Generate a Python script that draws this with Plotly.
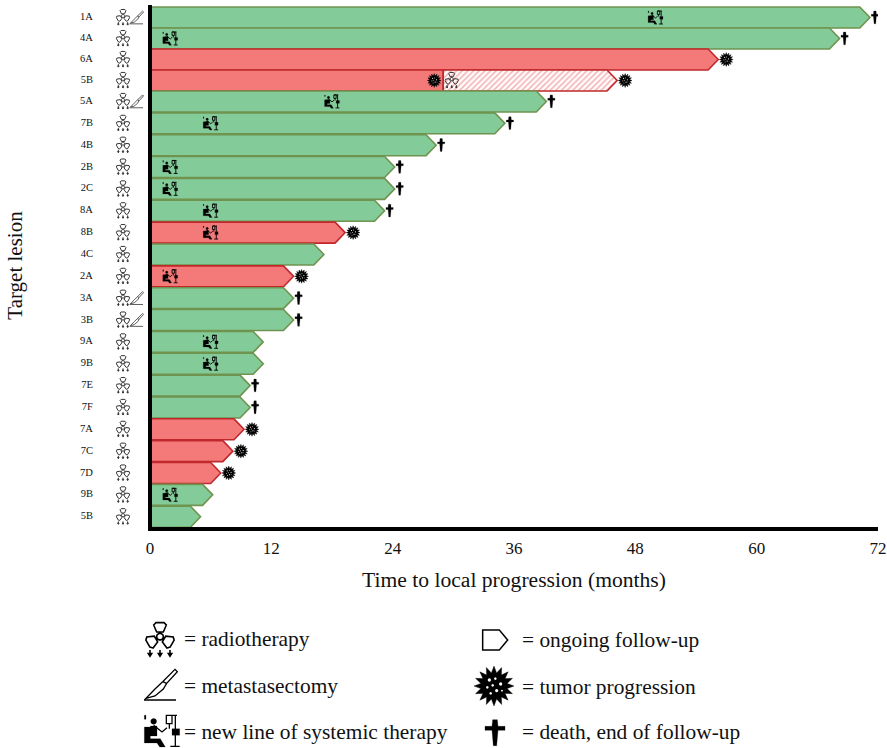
import math
import plotly.graph_objects as go

# ---- data -------------------------------------------------------------
lesions = ["1A", "4A", "6A", "5B", "5A", "7B", "4B", "2B", "2C", "8A", "8B", "4C",
           "2A", "3A", "3B", "9A", "9B", "7E", "7F", "7A", "7C", "7D", "9B", "5B"]
months = [71.2, 68.2, 56.2, 46.2, 39.2, 35.1, 28.3, 24.2, 24.2, 23.2, 19.3, 17.2,
          14.2, 14.2, 14.2, 11.2, 11.2, 9.9, 9.9, 9.3, 8.2, 7.0, 6.2, 5.0]
progressed = [0, 0, 1, 1, 0, 0, 0, 0, 0, 0, 1, 0, 1, 0, 0, 0, 0, 0, 0, 1, 1, 1, 0, 0]
died = [1, 1, 0, 0, 1, 1, 1, 1, 1, 1, 0, 0, 0, 1, 1, 0, 0, 1, 1, 0, 0, 0, 0, 0]
metastasectomy = [1, 0, 0, 0, 1, 0, 0, 0, 0, 0, 0, 0, 0, 1, 1, 0, 0, 0, 0, 0, 0, 0, 0, 0]
# row index -> month of the new line of systemic therapy
systemic_rows = [0, 1, 4, 5, 7, 8, 9, 10, 12, 15, 16, 22]
systemic_month = [50, 2, 18, 6, 2, 2, 6, 6, 2, 6, 6, 2]
split_row = 3
split_month = 29.0
tick_months = [0, 12, 24, 36, 48, 60, 72]
legend_left = ["= radiotherapy", "= metastasectomy", "= new line of systemic therapy"]
legend_right = ["= ongoing follow-up", "= tumor progression", "= death, end of follow-up"]

# ---- style ------------------------------------------------------------
SERIF = "Liberation Serif"
GREEN, GREEN_LINE = "#84CB9A", "#6F944F"
RED, RED_LINE = "#F47A7A", "#C0282D"
W, H = 887, 748
L, R, T, B = 150, 878, 4, 527
HEAD = 1.0      # arrow head length, months
HALF = 0.48     # half bar height, rows


def row_y(i):
    return i if i >= 4 else 4 - (4 - i) * 0.96


def px(x):  # figure pixel -> paper
    return (x - L) / (R - L)


def py(y):
    return (B - y) / (B - T)


fig = go.Figure()


def bar(x0, x1, y, fill, line, arrow=True, pattern=None):
    if arrow:
        xs = [x0, x1 - HEAD, x1, x1 - HEAD, x0, x0]
        ys = [y - HALF, y - HALF, y, y + HALF, y + HALF, y - HALF]
    else:
        xs = [x0, x1, x1, x0, x0]
        ys = [y - HALF, y - HALF, y + HALF, y + HALF, y - HALF]
    fig.add_trace(go.Scatter(x=xs, y=ys, mode="lines", fill="toself", fillcolor=fill,
                             fillpattern=pattern, line=dict(color=line, width=1.6),
                             hoverinfo="skip", showlegend=False))


for i, m in enumerate(months):
    fill, line = (RED, RED_LINE) if progressed[i] else (GREEN, GREEN_LINE)
    if i == split_row:
        bar(0, split_month, row_y(i), fill, line, arrow=False)
        bar(split_month, m, row_y(i), "#FFFFFF", line,
            pattern=dict(shape="/", fgcolor="#EE7070", bgcolor="#FFFFFF", size=4, solidity=0.45))
    else:
        bar(0, m, row_y(i), fill, line)


# ---- icon geometry (unit space, y up) ----------------------------------
def poly(pts, close=True):
    s = "M" + " L".join(f"{x:.2f},{y:.2f}" for x, y in pts)
    return s + (" Z" if close else "")


def scaled(parts):
    return " ".join(poly(p, c) for p, c in parts)


def circ_pts(cx, cy, r, n=14):
    return [(cx + r * math.cos(2 * math.pi * k / n), cy + r * math.sin(2 * math.pi * k / n))
            for k in range(n)]


def rot(pts, deg):
    a = math.radians(deg)
    return [(x * math.cos(a) - y * math.sin(a), x * math.sin(a) + y * math.cos(a)) for x, y in pts]


lobe = [(-19, 35), (-12, 42), (12, 42), (19, 35), (10, 14), (-10, 14)]
radiation = [([(x, y + 10) for x, y in rot(lobe, d)], True) for d in (0, 120, 240)]
radiation.append((circ_pts(0, 10, 10), True))
for ax in (-30, 0, 30):
    radiation.append(([(ax, -30), (ax, -44)], False))
    radiation.append(([(ax - 5, -41), (ax, -49), (ax + 5, -41)], True))

scalpel = [
    ([(-48, -45), (48, -45)], False),
    ([(-42, -40), (-15, -33), (10, -12), (20, 5), (52, 40), (45, 47), (8, 10), (-15, -12)], True),
    ([(20, 5), (8, 10)], False),
]

th_stroke = [
    ([(-25, 17), (0, -3), (15, 10)], False),
    ([(13, 47), (30, 47), (30, 22), (13, 22)], True),
    ([(22, 22), (22, 7)], False),
    ([(40, 47), (40, -46)], False),
    ([(25, -46), (53, -46)], False),
    ([(15, 47), (45, 47)], False),
]
th_fill = [
    (circ_pts(-25, 29, 9), True),
    ([(-53, 12), (-35, 12), (-35, -23), (-5, -23), (10, -48), (-7, -48), (-15, -36), (-53, -36)], True),
    ([(-35, 15), (-15, 15), (-15, -15), (-35, -15)], True),
    ([(30, 7), (53, 7), (53, -13), (30, -13)], True),
    ([(-53, 47), (-48, 47), (-48, 35), (-53, 35)], True),
]

n_spikes = 16
star = [((60 if k % 2 == 0 else 40) * math.cos(math.pi * k / n_spikes),
         (60 if k % 2 == 0 else 40) * math.sin(math.pi * k / n_spikes))
        for k in range(2 * n_spikes)]
tumor_body = [(star, True)]
tumor_dots = [(circ_pts(x, y, r, 8), True) for x, y, r in
              [(-14, 18, 5), (4, 22, 4), (20, 6, 5), (-4, 2, 4), (-20, -4, 4), (8, -14, 5), (-10, -22, 4), (24, -14, 3)]]


def cross_parts(arm):
    return [([(-7, 40), (7, 40), (9, 20), (arm, 20), (arm, 8), (9, 8), (5, -38), (-5, -38),
              (-9, 8), (-arm, 8), (-arm, 20), (-9, 20)], True)]


followup = [([(-37, 30), (13, 30), (38, 0), (13, -30), (-37, -30)], True)]

shapes = []


def place(parts, s, ax, ay, xref="x", yref="y", dx=0, dy=0, color="#000000", fill=None, width=0.8):
    pts = [([(x * s + dx, y * s + dy) for x, y in p], c) for p, c in parts]
    shapes.append(dict(type="path", path=scaled(pts), xref=xref, yref=yref,
                       xsizemode="pixel", ysizemode="pixel", xanchor=ax, yanchor=ay,
                       line=dict(color=color, width=width), fillcolor=fill or "rgba(0,0,0,0)",
                       layer="above"))


def tumor(s, ax, ay, xref="x", yref="y", dx=0, dy=0):
    place(tumor_body, s, ax, ay, xref, yref, dx, dy, fill="#000000", width=0.4)
    place(tumor_dots, s, ax, ay, xref, yref, dx, dy, color="rgba(0,0,0,0)", fill="#FFFFFF", width=0)


def therapy(s, ax, ay, xref="x", yref="y", dx=0, dy=0, w=0.9):
    place(th_stroke, s, ax, ay, xref, yref, dx, dy, width=w)
    place(th_fill, s, ax, ay, xref, yref, dx, dy, fill="#000000", width=0.2)


S_RAD, S_KNIFE, S_TH, S_TUM, S_CROSS = 0.155, 0.14, 0.14, 0.115, 0.165
for i, m in enumerate(months):
    y = row_y(i)
    place(radiation, S_RAD, 0, y, xref="paper", dx=-27, color="#333333", width=1.0)
    if metastasectomy[i]:
        place(scalpel, S_KNIFE, 0, y, xref="paper", dx=-13.7, color="#333333", width=0.8)
    if progressed[i]:
        tumor(S_TUM, m, y, dx=8)
    if died[i]:
        place(cross_parts(22), S_CROSS, m, y, dx=5, fill="#000000", width=0.2)

for r, m in zip(systemic_rows, systemic_month):
    therapy(S_TH, m, row_y(r))

# extra events of the split row
tumor(S_TUM, split_month, row_y(split_row), dx=-9)
place(radiation, S_RAD, split_month, row_y(split_row), dx=8.5, color="#333333", width=1.0)

# legend icons
LS = 1 / 3
place(radiation, LS, px(160), py(640), "paper", "paper", width=1.6)
place(scalpel, LS, px(160), py(685), "paper", "paper", width=1.3)
therapy(LS, px(162), py(731), "paper", "paper", w=1.3)
place(followup, LS, px(495), py(640), "paper", "paper", width=1.5)
tumor(LS, px(494), py(686), "paper", "paper")
place(cross_parts(30), LS, px(495), py(733), "paper", "paper", fill="#000000", width=0.3)

# thick left axis line, drawn over the bars
shapes.append(dict(type="line", xref="paper", yref="paper", x0=0, x1=0, y0=py(531), y1=py(5),
                   line=dict(color="#000000", width=4), layer="above"))

annotations = []
for txt, yy in zip(legend_left, (639, 686, 732)):
    annotations.append(dict(text=txt, x=px(182), y=py(yy), xref="paper", yref="paper", xanchor="left",
                            yanchor="middle", showarrow=False, font=dict(family=SERIF, size=21.4, color="#111111")))
for txt, yy in zip(legend_right, (640, 687, 732)):
    annotations.append(dict(text=txt, x=px(520), y=py(yy), xref="paper", yref="paper", xanchor="left",
                            yanchor="middle", showarrow=False, font=dict(family=SERIF, size=21.4, color="#111111")))

fig.update_layout(
    width=W, height=H, margin=dict(l=L, r=W - R, t=T, b=H - B, pad=0, autoexpand=False),
    paper_bgcolor="#FFFFFF", plot_bgcolor="#FFFFFF", showlegend=False,
    font=dict(family=SERIF, color="#111111"),
    shapes=shapes, annotations=annotations,
    xaxis=dict(range=[0, 72], tickvals=tick_months, ticktext=[str(t) for t in tick_months],
               showgrid=False, zeroline=False, showline=True, linewidth=4, linecolor="#000000",
               ticks="outside", ticklen=3, tickcolor="rgba(0,0,0,0)", tickfont=dict(size=17),
               title=dict(text="Time to local progression (months)", font=dict(size=21.6), standoff=15)),
    yaxis=dict(range=[23.47, -0.46], tickvals=[row_y(i) - 0.05 for i in range(len(lesions))], ticktext=lesions,
               showgrid=False, zeroline=False, showline=False,
               ticks="outside", ticklen=54, tickcolor="rgba(0,0,0,0)", tickfont=dict(size=10.5),
               title=dict(text="Target lesion", font=dict(size=21), standoff=51)),
)

fig.write_html("out.html", config=dict(displayModeBar=False),
               post_script="document.body.style.margin='0';")
